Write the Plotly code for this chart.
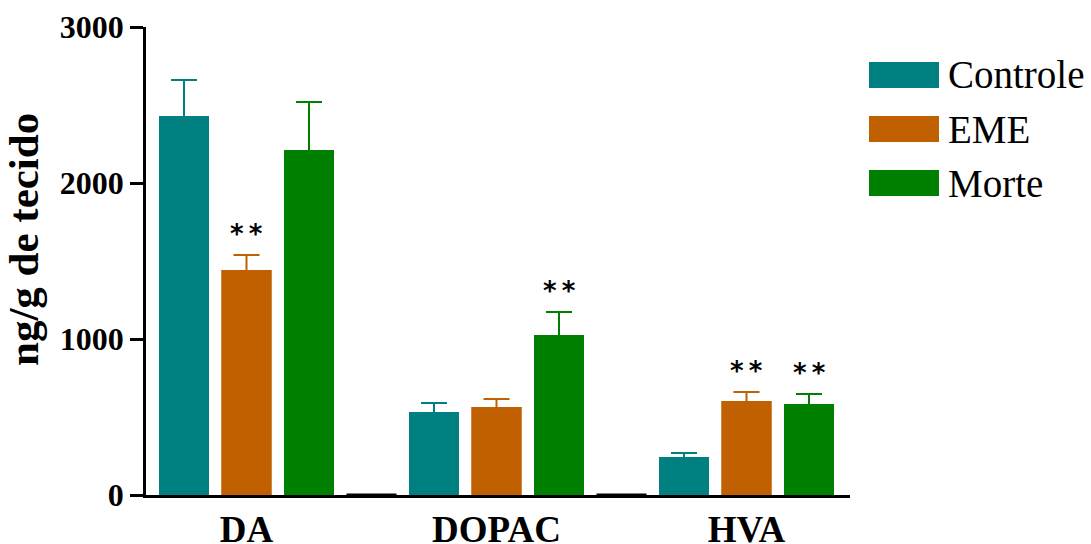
import plotly.graph_objects as go

categories = ["DA", "DOPAC", "HVA"]
series = ["Controle", "EME", "Morte"]
colors = ["#008080", "#C06000", "#008000"]

controle_mean = [2429, 532, 244]
controle_sem = [231, 58, 25]
eme_mean = [1442, 564, 603]
eme_sem = [96, 51, 57]
morte_mean = [2212, 1026, 583]
morte_sem = [307, 147, 64]

eme_sig = ["**", "", "**"]
morte_sig = ["", "**", "**"]
controle_sig = ["", "", ""]

y_ticks = [0, 1000, 2000, 3000]
y_title = "ng/g de tecido"

means = [controle_mean, eme_mean, morte_mean]
sems = [controle_sem, eme_sem, morte_sem]
sigs = [controle_sig, eme_sig, morte_sig]

SLOTS = 4  # three bars + one empty slot per group

W, H = 1091, 544
ml, mr, mt, mb = 146, 241, 27, 49
pw, ph = W - ml - mr, H - mt - mb

def px2paper_x(px):
    return (px - ml) / pw

def px2paper_y(py):
    return (H - mb - py) / ph

fig = go.Figure()
for s, name in enumerate(series):
    xs = [g * SLOTS + s for g in range(len(categories))]
    # bar with symmetric error bars; the lower half is hidden by the overlaid bar below
    fig.add_trace(go.Bar(
        x=xs, y=means[s], name=name, width=0.8,
        marker=dict(color=colors[s], line=dict(width=0)),
        error_y=dict(type="data", array=sems[s], symmetric=True,
                     color=colors[s], thickness=2, width=13),
        showlegend=False, hoverinfo="skip",
    ))
for s, name in enumerate(series):
    xs = [g * SLOTS + s for g in range(len(categories))]
    fig.add_trace(go.Bar(
        x=xs, y=means[s], name=name, width=0.8,
        marker=dict(color=colors[s], line=dict(width=0)),
        showlegend=False,
    ))
    for g in range(len(categories)):
        if sigs[s][g]:
            fig.add_annotation(
                x=g * SLOTS + s, y=means[s][g] + sems[s][g],
                text="<b>" + "\u2009".join(sigs[s][g]) + "</b>",
                showarrow=False, yanchor="bottom", yshift=4,
                font=dict(family="DejaVu Sans", size=26, color="black"),
            )

# darker baseline segments at the empty slots
for g in range(len(categories) - 1):
    xc = g * SLOTS + 3
    fig.add_shape(type="line", x0=xc - 0.4, x1=xc + 0.4, y0=0, y1=0,
                  xref="x", yref="y", line=dict(color="black", width=3))

# manual legend
sw_top = [62, 116, 170]
for s, name in enumerate(series):
    fig.add_shape(type="rect", xref="paper", yref="paper",
                  x0=px2paper_x(869), x1=px2paper_x(939),
                  y0=px2paper_y(sw_top[s] + 26), y1=px2paper_y(sw_top[s]),
                  fillcolor=colors[s], line=dict(width=0))
    fig.add_annotation(xref="paper", yref="paper", x=px2paper_x(946),
                       y=px2paper_y(sw_top[s] + 13), text=name, showarrow=False,
                       xanchor="left", yanchor="middle",
                       font=dict(family="Liberation Serif", size=39, color="black"))

fig.add_annotation(xref="paper", yref="paper", x=px2paper_x(23), y=px2paper_y(240),
                   text="<b>" + y_title + "</b>", textangle=-90, showarrow=False,
                   xanchor="center", yanchor="middle",
                   font=dict(family="Liberation Serif", size=43, color="black"))

fig.update_layout(
    width=W, height=H,
    margin=dict(l=ml, r=mr, t=mt, b=mb, autoexpand=False),
    plot_bgcolor="white", paper_bgcolor="white",
    barmode="overlay", showlegend=False,
    xaxis=dict(
        range=[-0.608, 10.656], tickvals=[g * SLOTS + 1 for g in range(len(categories))],
        ticktext=["<b>" + c + "</b>" for c in categories],
        showgrid=False, zeroline=False, showline=True, linecolor="black", linewidth=2.5,
        ticks="", tickfont=dict(family="Liberation Serif", size=37, color="black"),
        ticklabelstandoff=0,
    ),
    yaxis=dict(
        range=[0, 3000], tickvals=y_ticks, ticktext=["<b>%d</b>" % v for v in y_ticks],
        showgrid=False, zeroline=False, showline=True, linecolor="black", linewidth=2.5,
        ticks="outside", ticklen=13, tickwidth=2.5, tickcolor="black",
        tickfont=dict(family="Liberation Serif", size=32, color="black"),
    ),
)

fig.write_html("out.html")
